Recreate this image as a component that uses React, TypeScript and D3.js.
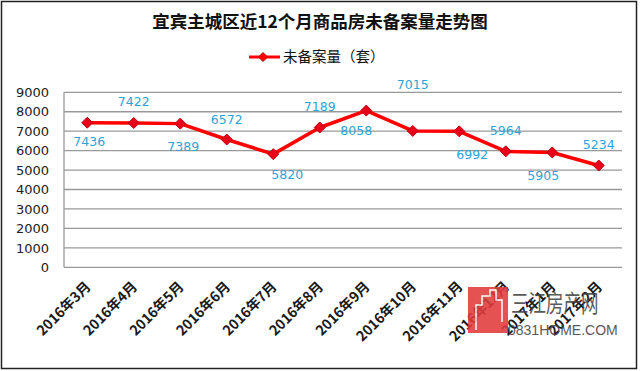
import React from "react";
import * as d3 from "d3";

const categories = ["2016年3月","2016年4月","2016年5月","2016年6月","2016年7月","2016年8月","2016年9月","2016年10月","2016年11月","2016年12月","2017年1月","2017年2月"];
const values = [7436, 7422, 7389, 6572, 5820, 7189, 8058, 7015, 6992, 5964, 5905, 5234];
const yTicks = [0, 1000, 2000, 3000, 4000, 5000, 6000, 7000, 8000, 9000];
const title = "宜宾主城区近12个月商品房未备案量走势图";
const seriesName = "未备案量（套）";

// label placement offsets (px) relative to each marker
const labelDx = [2, 0, 3, 0, 14, 0, -10, 0, 13, 0, -9, 0];
const labelDy = [19, -21, 23, -20, 20, -21, 20, -46, 23, -21, 23, -21];

const W = 640, H = 371;
const plot = { left: 64, right: 622, top: 92.3, bottom: 267.3 };

export default function App() {
  const x = d3.scaleBand<string>().domain(categories).range([plot.left, plot.right]);
  const y = d3.scaleLinear().domain([0, 9000]).range([plot.bottom, plot.top]);
  const cx = (c: string) => (x(c) as number) + x.bandwidth() / 2;
  const line = d3.line<number>().x((_, i) => cx(categories[i])).y(d => y(d));
  const diamond = (px: number, py: number, r: number) => `M${px},${py - r}L${px + r},${py}L${px},${py + r}L${px - r},${py}Z`;
  const cjk = "'Noto Sans CJK SC', 'DejaVu Sans', sans-serif";
  return (
    <svg width={W} height={H} style={{ position: "absolute", left: 0, top: 0, background: "#fff" }}>
      <rect x={0} y={0} width={W} height={H} fill="#fff" />
      <rect x={1.5} y={1.5} width={635} height={367} fill="none" stroke="#222" strokeWidth={1.5} />
      <text x={320} y={28} textAnchor="middle" fontFamily={cjk} fontWeight="bold" fontSize={17.5} fill="#111">{title}</text>
      <g>
        <line x1={249} x2={280} y1={57} y2={57} stroke="#ff0000" strokeWidth={3} />
        <path d={diamond(263, 57, 4.5)} fill="#ff0000" stroke="#cc0000" />
        <text x={283} y={62} fontFamily={cjk} fontSize={14.5} fill="#111">{seriesName}</text>
      </g>
      {yTicks.map(t => (
        <g key={t}>
          {t > 0 && <line x1={plot.left} x2={plot.right} y1={y(t)} y2={y(t)} stroke="#999" strokeWidth={1.3} />}
          <text x={49} y={y(t)} dy="0.36em" textAnchor="end" fontFamily="'DejaVu Sans', sans-serif" fontSize={13} fill="#222">{t}</text>
        </g>
      ))}
      <line x1={plot.left} x2={plot.left} y1={plot.top} y2={plot.bottom} stroke="#999" strokeWidth={1.3} />
      <line x1={plot.left} x2={plot.right} y1={plot.bottom} y2={plot.bottom} stroke="#999" strokeWidth={1.3} />
      <path d={line(values) || ""} fill="none" stroke="#ff0000" strokeWidth={3.5} strokeLinejoin="round" />
      {values.map((v, i) => (
        <path key={i} d={diamond(cx(categories[i]), y(v), 5.5)} fill="#e8001a" stroke="#c00010" strokeWidth={1} />
      ))}
      {values.map((v, i) => (
        <text key={"l" + i} x={cx(categories[i]) + labelDx[i]} y={y(v) + labelDy[i]} dy="0.36em" textAnchor="middle"
          fontFamily="'DejaVu Sans', sans-serif" fontSize={12.5} fill="#2ea3d6">{v}</text>
      ))}
      {categories.map(c => (
        <text key={c} transform={`translate(${cx(c) + 1},${284}) rotate(-45)`} textAnchor="end" dy="0.35em"
          fontFamily={cjk} fontWeight="bold" fontSize={14} fill="#1a1a1a">{c}</text>
      ))}
      <g opacity={0.88}>
        <rect x={468} y={287} width={40} height={46} fill="#e23b3b" />
        <path d="M476,330 L476,305 L482,305 L482,296 L490,296 L490,290 L496,290 L496,300 L502,300 L502,322" fill="none" stroke="#fff" strokeWidth={1.5} />
        <text transform="translate(511,312) scale(1,1.35)" fontFamily={cjk} fontSize={17.5} fill="#444">三江房产网</text>
        <text x={508} y={335} fontFamily="'Liberation Sans Narrow', 'Liberation Sans', sans-serif" fontSize={14} fill="#444">0831HOME.COM</text>
      </g>
    </svg>
  );
}
